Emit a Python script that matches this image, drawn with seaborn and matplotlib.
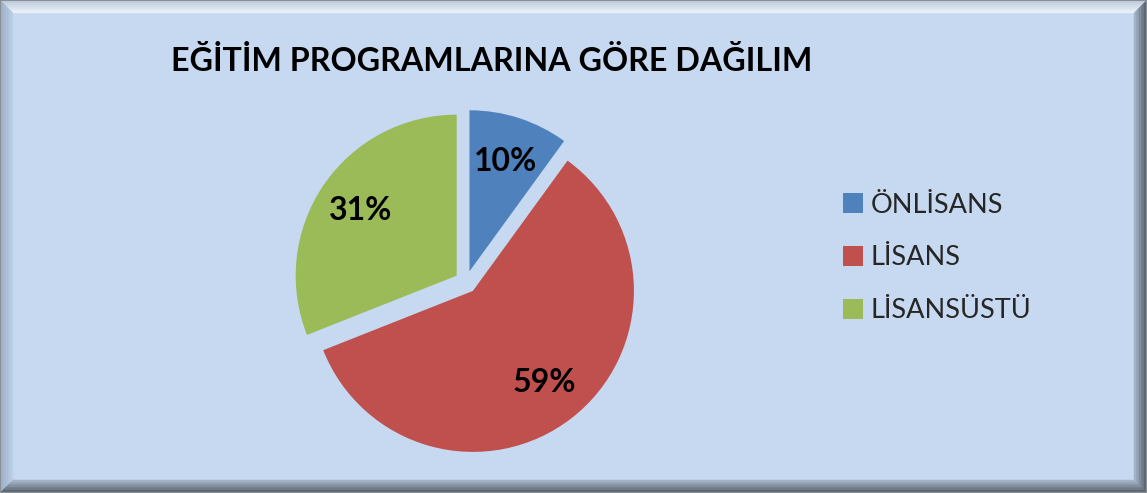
import matplotlib
matplotlib.use("Agg")
import matplotlib.pyplot as plt
import seaborn as sns
import numpy as np
from matplotlib.patches import Polygon, Patch
from matplotlib.colors import to_rgb

# ---- data ----
title = "EĞİTİM PROGRAMLARINA GÖRE DAĞILIM"
categories = ["ÖNLİSANS", "LİSANS", "LİSANSÜSTÜ"]
values = [10, 59, 31]
colors = ["#4f81bd", "#c0504d", "#9bbb59"]

sns.set_style("white")
plt.rcParams['font.family'] = ['Lato', 'DejaVu Sans']

W, H = 1147, 493
fig = plt.figure(figsize=(W / 100, H / 100), dpi=100)
bg = "#c6d9f1"
fig.patch.set_facecolor(bg)

# ---- bevel frame (pixel coords, y from top) ----
bw = 13
def px(x, y):
    return (x / W, 1 - y / H)

def band(side, t0, t1, c):
    a0, a1 = t0 * bw, t1 * bw
    if side == "top":
        pts = [(a0, a0), (W - a0, a0), (W - a1, a1), (a1, a1)]
    elif side == "bottom":
        pts = [(a0, H - a0), (W - a0, H - a0), (W - a1, H - a1), (a1, H - a1)]
    elif side == "left":
        pts = [(a0, a0), (a1, a1), (a1, H - a1), (a0, H - a0)]
    else:
        pts = [(W - a0, a0), (W - a1, a1), (W - a1, H - a1), (W - a0, H - a0)]
    fig.patches.append(Polygon([px(*p) for p in pts], closed=True,
                               transform=fig.transFigure, facecolor=c,
                               edgecolor=c, lw=0.3, zorder=0))

def grad(side, c_out, c_in, n=8):
    co, ci = np.array(to_rgb(c_out)), np.array(to_rgb(c_in))
    for i in range(n):
        t = (i + 0.5) / n
        band(side, i / n, (i + 1) / n, tuple(co + (ci - co) * t))

grad("top", "#b9c7d8", "#eef4fb")
grad("left", "#98abc2", "#bcd0e8")
grad("right", "#4c5460", "#a9b9cc")
grad("bottom", "#4c5460", "#a9b9cc")
fig.patches.append(plt.Rectangle((0, 0), 1, 1, transform=fig.transFigure,
                                 fill=False, edgecolor="#8a8f96", lw=1.5, zorder=1))

# ---- pie ----
cx, cy, R = 466, 282, 161
half = 220
ax = fig.add_axes([(cx - half) / W, (H - cy - half) / H, 2 * half / W, 2 * half / H])
ax.set_facecolor("none")
lim = half / R
wedges, texts, autotexts = ax.pie(
    values, colors=colors, startangle=90, counterclock=False,
    explode=[0.07, 0.07, 0.07], autopct="%1.0f%%", pctdistance=0.72,
    wedgeprops=dict(linewidth=0),
    textprops=dict(fontsize=23, fontweight="bold", color="black"))
ax.set_xlim(-lim, lim)
ax.set_ylim(-lim, lim)
ax.set_aspect("equal")
ax.axis("off")

# ---- title ----
fig.text(171 / W, 1 - 61 / H, title, fontsize=23.2, fontweight="bold",
         ha="left", va="center", color="black")

# ---- legend ----
handles = [Patch(facecolor=c, edgecolor="none") for c in colors]
fig.legend(handles, categories, loc="center left",
           bbox_to_anchor=(843 / W, 1 - 258 / H), frameon=False,
           fontsize=19.5, handlelength=0.72, handleheight=0.72,
           handletextpad=0.3, labelspacing=1.03, borderpad=0,
           borderaxespad=0)

fig.savefig("out.png", dpi=100, facecolor=fig.get_facecolor())
